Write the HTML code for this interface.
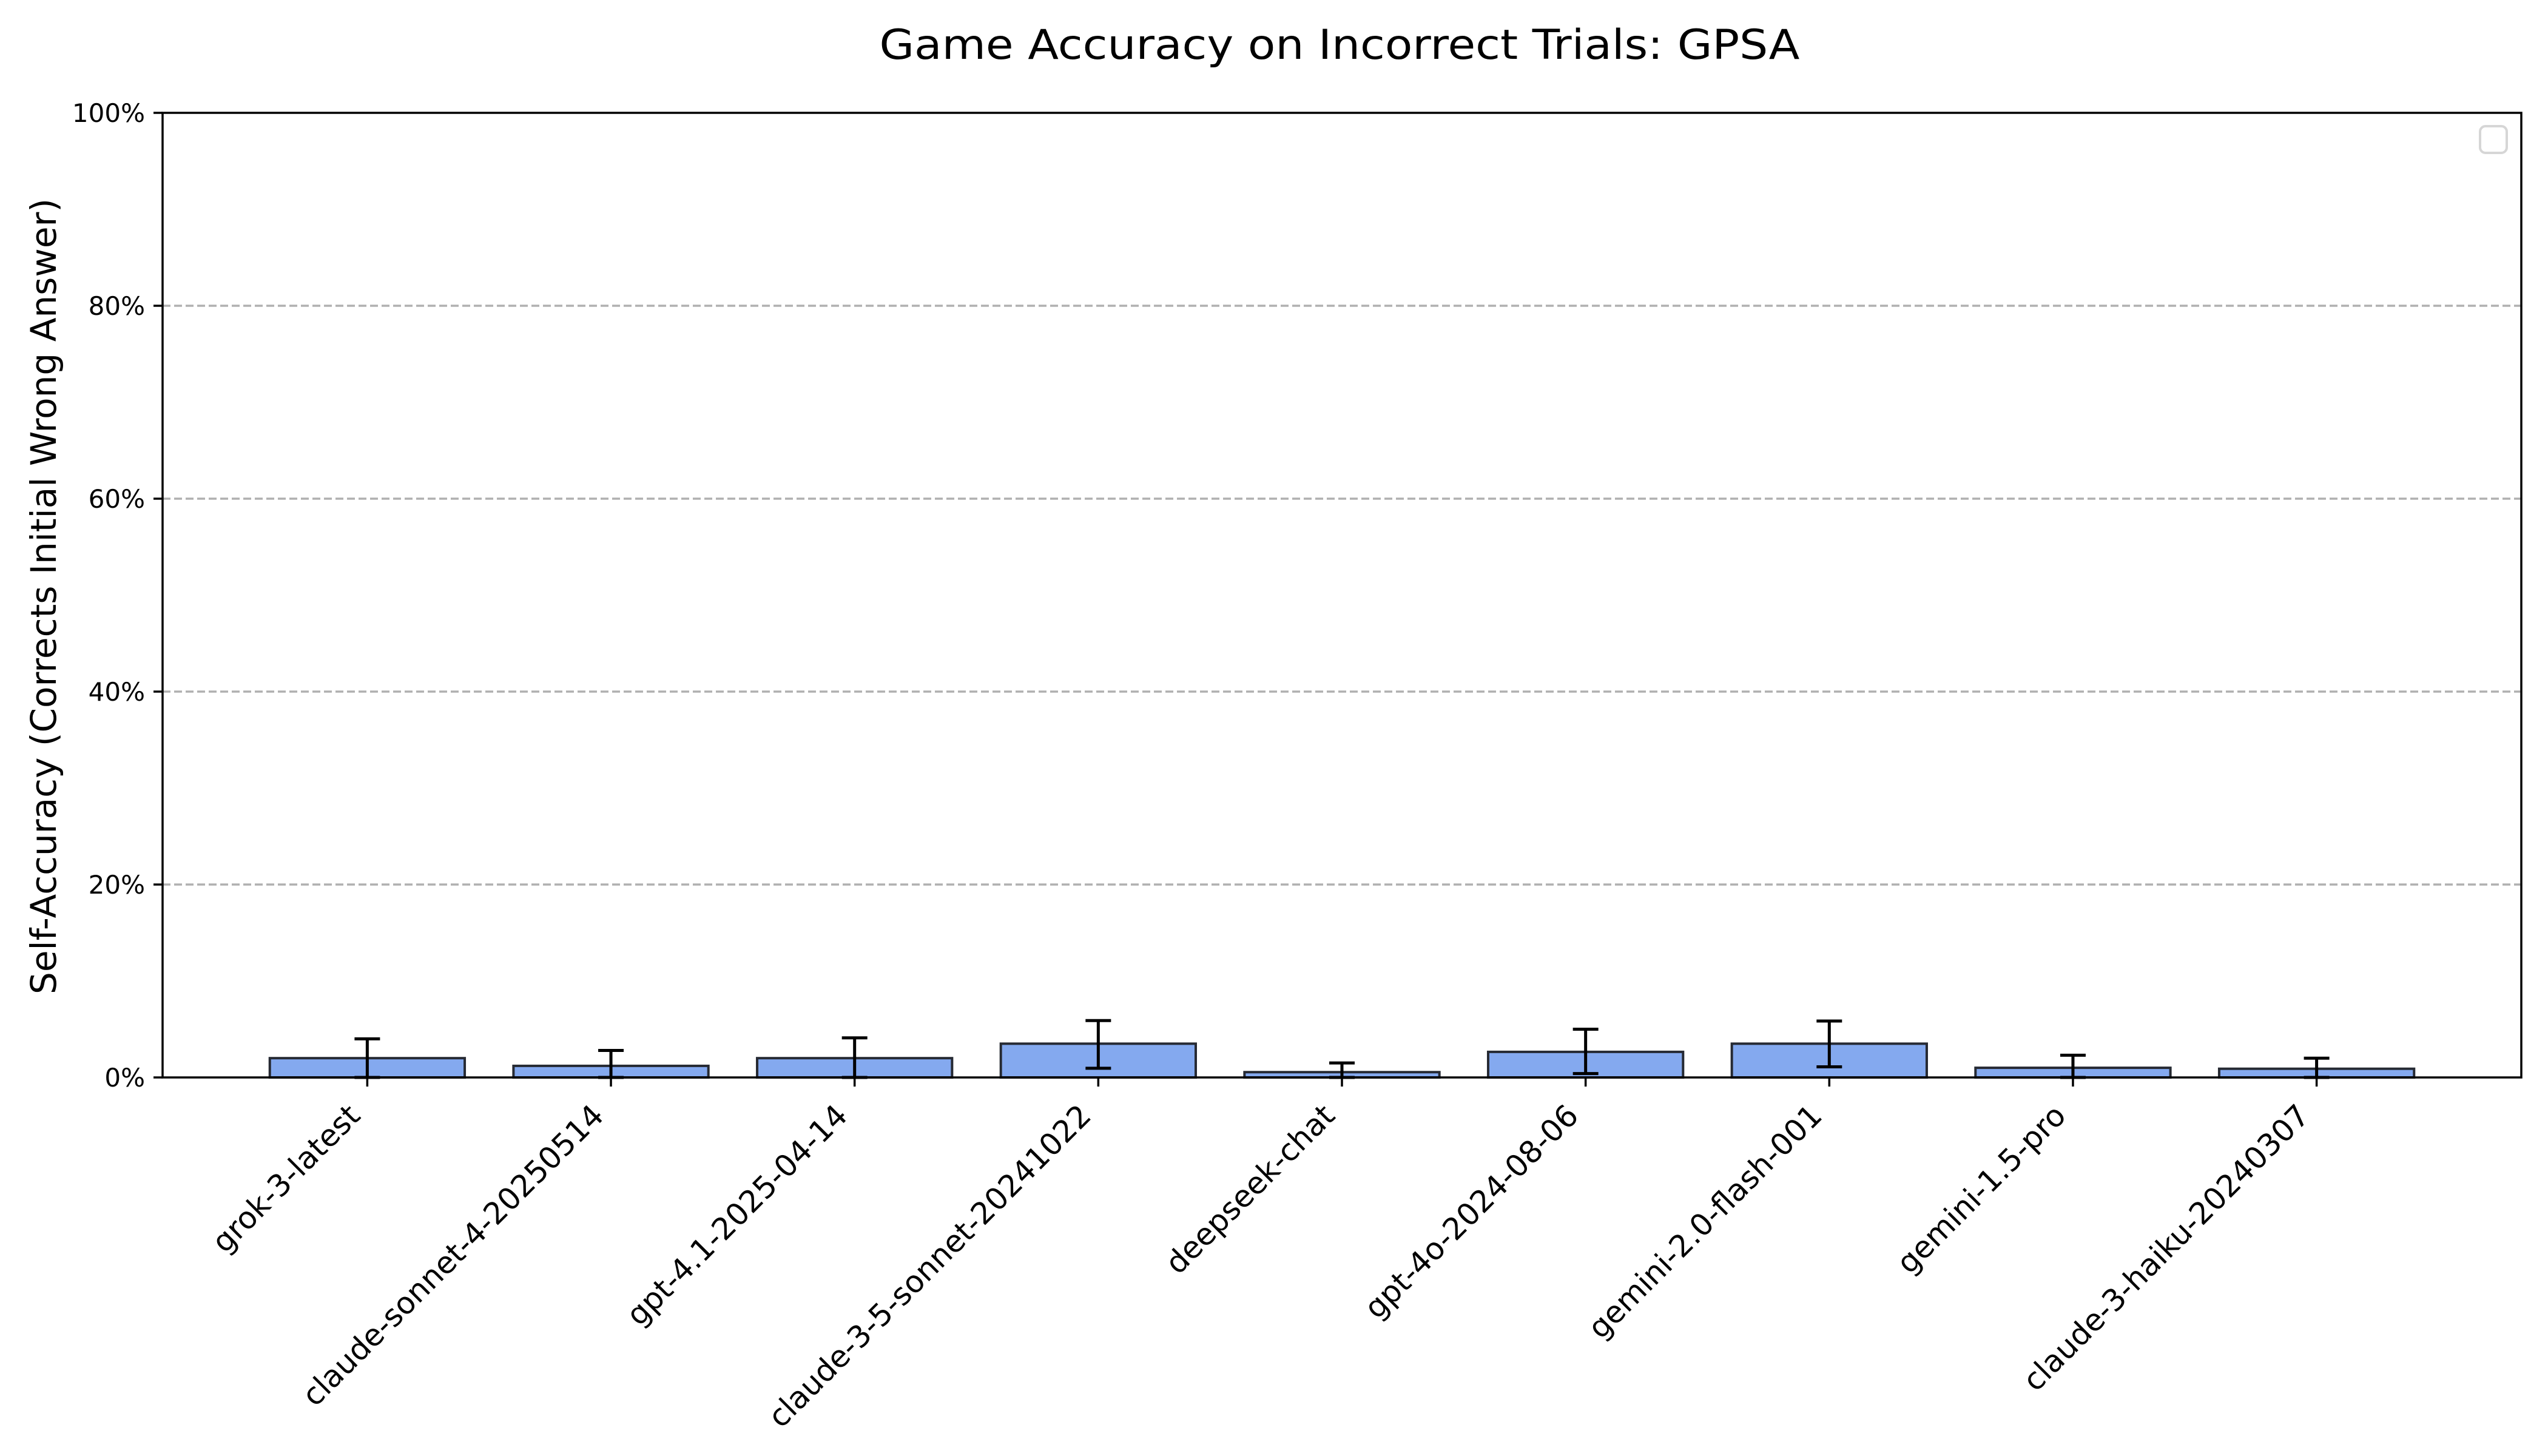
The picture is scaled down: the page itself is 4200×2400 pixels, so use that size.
<!DOCTYPE html>
<html><head><meta charset="utf-8"><style>
html,body{margin:0;padding:0;background:#fff;}
svg{display:block;font-family:"DejaVu Sans","Liberation Sans",sans-serif;}
</style></head><body>
<svg id="chart" width="4200" height="2400" viewBox="0 0 4200 2400" xmlns="http://www.w3.org/2000/svg">
<rect width="4200" height="2400" fill="#fff"/>
<text x="2208" y="97" font-size="68" text-anchor="middle" textLength="1517" lengthAdjust="spacingAndGlyphs">Game Accuracy on Incorrect Trials: GPSA</text>
<text transform="translate(92,983) rotate(-90)" font-size="58" text-anchor="middle" textLength="1312" lengthAdjust="spacingAndGlyphs">Self-Accuracy (Corrects Initial Wrong Answer)</text>
<g id="grid"></g>
<g id="bars"></g>
<g id="errs"></g>
<g id="axes"></g>
<rect x="4088" y="208" width="44" height="44" rx="9" fill="#fff" stroke="#d6d6d6" stroke-width="4"/>
</svg>
<script>
const categories = ["grok-3-latest","claude-sonnet-4-20250514","gpt-4.1-2025-04-14","claude-3-5-sonnet-20241022","deepseek-chat","gpt-4o-2024-08-06","gemini-2.0-flash-001","gemini-1.5-pro","claude-3-haiku-20240307"];
const values = [2.0, 1.2, 2.0, 3.5, 0.55, 2.65, 3.5, 1.0, 0.9];
const errLow = [0.0, 0.0, 0.0, 0.95, 0.0, 0.4, 1.1, 0.0, 0.0];
const errHigh = [4.0, 2.8, 4.1, 5.9, 1.5, 5.0, 5.85, 2.3, 2.0];
const yTicks = [0, 20, 40, 60, 80, 100];
const yTickLabels = ["0%","20%","40%","60%","80%","100%"];

const NS = "http://www.w3.org/2000/svg";
const L = 268, R = 4156, T = 186, B = 1776;
const n = categories.length;
const xMin = -0.84, xMax = n - 1 + 0.84;
function xS(i){ return L + (i - xMin) / (xMax - xMin) * (R - L); }
function yS(v){ return B - v / 100 * (B - T); }
function mk(tag, attrs, parent){ const e = document.createElementNS(NS, tag); for (const k in attrs) e.setAttribute(k, attrs[k]); parent.appendChild(e); return e; }
const grid = document.getElementById("grid"), bars = document.getElementById("bars"), errs = document.getElementById("errs"), axes = document.getElementById("axes");

yTicks.forEach((t, k) => {
  const y = yS(t);
  if (t > 0 && t < 100) {
    const g = mk("line", {x1: L, x2: R, y1: y, y2: y, stroke: "#b0b0b0", "stroke-width": 3.5, "stroke-dasharray": "13,6"}, grid);
    
    
  }
  const tk = mk("line", {x1: L - 15, x2: L, y1: y, y2: y, stroke: "#000", "stroke-width": 3.5}, axes);
  
  
  const lb = mk("text", {x: L - 29, y: y + 15, "font-size": 42, "text-anchor": "end"}, axes);
  lb.textContent = yTickLabels[k];
  
  
});

const bw = 0.8 * (xS(1) - xS(0));
categories.forEach((c, i) => {
  const cx = xS(i);
  const r = mk("rect", {x: cx - bw / 2, y: yS(values[i]), width: bw, height: yS(0) - yS(values[i]), fill: "#84a9ef", stroke: "#262a33", "stroke-width": 4}, bars);
  
  
  const e = mk("g", {stroke: "#000", "stroke-width": 5}, errs);
  
  
  mk("line", {x1: cx, x2: cx, y1: yS(errLow[i]), y2: yS(errHigh[i])}, e);
  mk("line", {x1: cx - 21, x2: cx + 21, y1: yS(errLow[i]), y2: yS(errLow[i])}, e);
  mk("line", {x1: cx - 21, x2: cx + 21, y1: yS(errHigh[i]), y2: yS(errHigh[i])}, e);
  const tk = mk("line", {x1: cx, x2: cx, y1: B, y2: B + 15, stroke: "#000", "stroke-width": 3.5}, axes);
  
  
  const px = cx - 9, py = B + 30 + 36;
  const lb = mk("text", {x: px, y: py, "font-size": 50, "text-anchor": "end", transform: "rotate(-45 " + px + " " + py + ")"}, axes);
  lb.textContent = c;
  
  
});

const frame = mk("rect", {x: L, y: T, width: R - L, height: B - T, fill: "none", stroke: "#000", "stroke-width": 3.5}, axes);


</script>
</body></html>
